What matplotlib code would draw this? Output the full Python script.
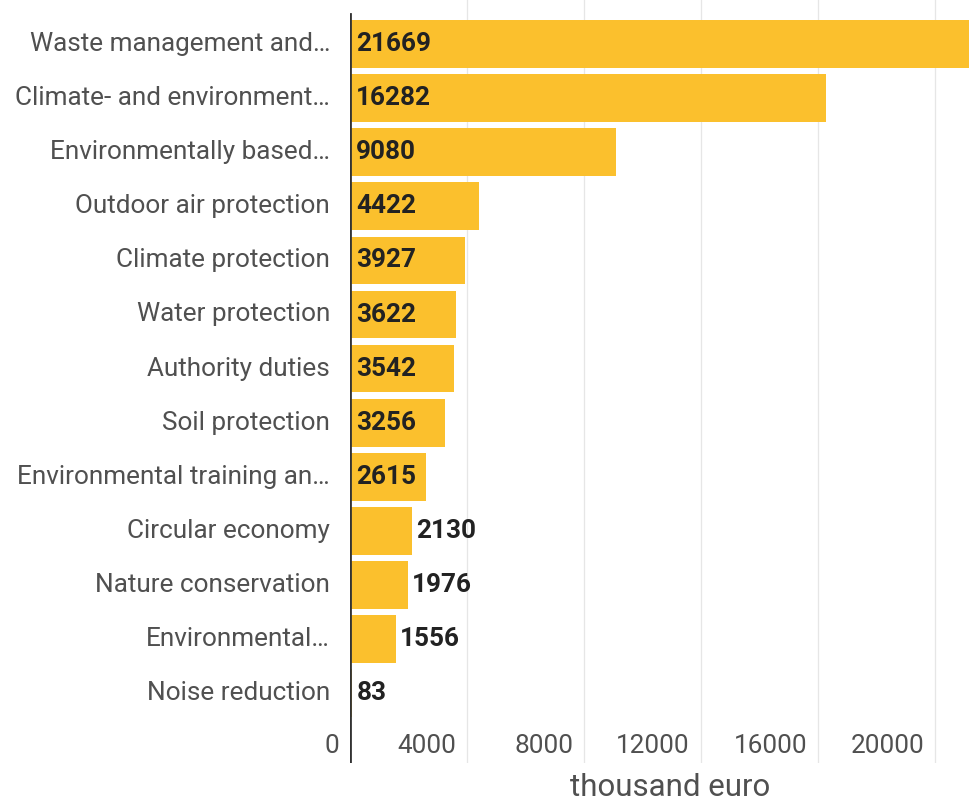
import matplotlib
matplotlib.use("Agg")
import matplotlib.pyplot as plt
from matplotlib.transforms import blended_transform_factory, offset_copy

categories = [
    "Waste management and…",
    "Climate- and environment…",
    "Environmentally based…",
    "Outdoor air protection",
    "Climate protection",
    "Water protection",
    "Authority duties",
    "Soil protection",
    "Environmental training an…",
    "Circular economy",
    "Nature conservation",
    "Environmental…",
    "Noise reduction",
]
values = [21669, 16282, 9080, 4422, 3927, 3622, 3542, 3256, 2615, 2130, 1976, 1556, 83]
xticks = [0, 4000, 8000, 12000, 16000, 20000]
xlabel = "thousand euro"

BAR = "#FBC02D"
plt.rcParams['font.family'] = ['Roboto', 'DejaVu Sans']

W, H = 970, 801
fig = plt.figure(figsize=(W / 100, H / 100), dpi=100)
ax_left = 350 / W
ax_bottom = 1 - 763 / H
ax = fig.add_axes([ax_left, ax_bottom, 1 - ax_left, 1 - ax_bottom])

pos = list(range(len(values)))
ax.barh(pos, values, height=0.88, color=BAR, zorder=2)

px_per_unit = 54.1
top_lim = -44 / px_per_unit
bot_lim = (763 - 44) / px_per_unit
ax.set_ylim(bot_lim, top_lim)
ax.set_xlim(0, 620 / 117 * 4000)

for s in ax.spines.values():
    s.set_visible(False)
ax.set_xticks([])
ax.set_yticks([])

for t in xticks[1:]:
    ax.axvline(t, color="#e6e6e6", linewidth=0.9, zorder=1)
ax.axvline(0, ymin=0, ymax=(763 - 14) / 763, color="#333333", linewidth=2.0, zorder=3)

FS = 18.8
# category labels
trans_cat = offset_copy(ax.transData, fig=fig, x=-20, y=0, units='dots')
for p, c in zip(pos, categories):
    ax.text(0, p, c, transform=trans_cat, ha='right', va='center',
            fontsize=FS, color="#505050", clip_on=False)

# value labels
in_off = offset_copy(ax.transData, fig=fig, x=6, y=0, units='dots')
out_off = offset_copy(ax.transData, fig=fig, x=4, y=0, units='dots')
for p, v in zip(pos, values):
    if v > 2400:
        ax.text(0, p, str(v), transform=in_off, ha='left', va='center',
                fontsize=FS, fontweight='bold', color="#222222")
    else:
        ax.text(v, p, str(v), transform=out_off, ha='left', va='center',
                fontsize=FS, fontweight='bold', color="#222222")

# tick labels (drawn inside axis area, right-aligned to grid lines)
btrans = blended_transform_factory(ax.transData, fig.transFigure)
tick_trans = offset_copy(btrans, fig=fig, x=-11, y=0, units='dots')
for t in xticks:
    ax.text(t, 1 - 746 / H, str(t), transform=tick_trans, ha='right', va='center',
            fontsize=FS, color="#505050", clip_on=False)

fig.text(670 / W, 1 - 788 / H, xlabel, ha='center', va='center',
         fontsize=22.5, color="#505050")

fig.savefig("out.png", dpi=100)
